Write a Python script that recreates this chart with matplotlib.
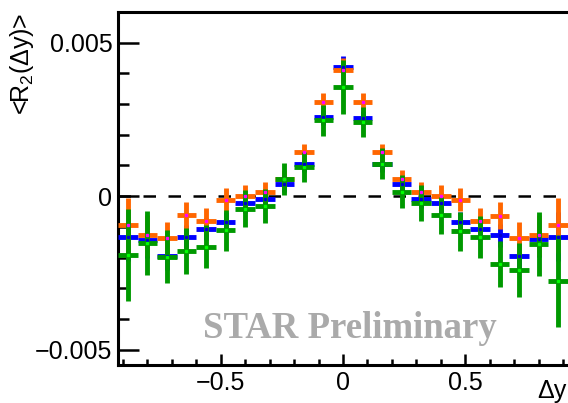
import numpy as np
import matplotlib
matplotlib.use('Agg')
import matplotlib.pyplot as plt
from matplotlib.ticker import MultipleLocator, FixedLocator

plt.rcParams['font.family'] = ['Liberation Sans', 'DejaVu Sans']
plt.rcParams['mathtext.fontset'] = 'custom'
plt.rcParams['mathtext.rm'] = 'Liberation Sans'
plt.rcParams['mathtext.it'] = 'Liberation Sans'

# bin centres in delta-y
dy = [-0.88, -0.80, -0.72, -0.64, -0.56, -0.48, -0.40, -0.32, -0.24, -0.16, -0.08, 0.0,
      0.08, 0.16, 0.24, 0.32, 0.40, 0.48, 0.56, 0.64, 0.72, 0.80, 0.88]
half_width = 0.04

# values in units of 1e-3
blue = [-1.314, -1.422, -1.944, -1.314, -1.072, -0.856, -0.222, -0.101, 0.392, 1.062, 2.565, 4.222,
        2.543, 1.062, 0.399, -0.092, -0.222, -0.856, -1.072, -1.281, -1.954, -1.399, -1.314]
blue_err = [0.80, 0.59, 0.46, 0.39, 0.37, 0.34, 0.32, 0.29, 0.26, 0.26, 0.24, 0.36,
            0.24, 0.26, 0.26, 0.29, 0.32, 0.34, 0.37, 0.39, 0.46, 0.59, 0.80]

orange = [-0.954, -1.281, -1.356, -0.627, -0.801, -0.114, 0.016, 0.137, 0.572, 1.431, 3.078, 4.111,
          3.078, 1.431, 0.562, 0.137, 0.016, -0.114, -0.801, -0.637, -1.366, -1.281, -0.954]
orange_err = [0.895, 0.654, 0.513, 0.438, 0.415, 0.382, 0.359, 0.327, 0.294, 0.284, 0.271, 0.405,
              0.271, 0.284, 0.294, 0.327, 0.359, 0.382, 0.415, 0.438, 0.513, 0.654, 0.895]

green = [-1.922, -1.520, -1.967, -1.781, -1.641, -1.118, -0.409, -0.333, 0.572, 0.964, 2.467, 3.569,
         2.412, 1.052, 0.147, -0.222, -0.627, -1.150, -1.333, -2.206, -2.402, -1.562, -2.752]
green_err = [1.503, 1.046, 0.859, 0.752, 0.686, 0.654, 0.598, 0.556, 0.523, 0.490, 0.507, 0.882,
             0.490, 0.507, 0.533, 0.572, 0.598, 0.644, 0.686, 0.752, 0.873, 1.046, 1.503]

fig = plt.figure(figsize=(5.68, 4.03), dpi=100)
ax = fig.add_axes([0.2077, 0.0943, 0.7923, 0.8759])

series = [
    (blue, blue_err, '#0000ff', '#0000cc'),
    (orange, orange_err, '#ff6600', '#ff00ff'),
    (green, green_err, '#009900', '#00ff00'),
]
for vals, errs, color, mcolor in series:
    ax.errorbar(dy, np.array(vals) * 1e-3, xerr=half_width, yerr=np.array(errs) * 1e-3,
                fmt='s', ms=2.0, mfc=mcolor, mec=mcolor, ecolor=color, elinewidth=3.5,
                capsize=0, zorder=3)

ax.axhline(0, color='black', lw=1.8, ls=(0, (5, 5)), zorder=2)

ax.set_xlim(-0.92, 0.92)
ax.set_ylim(-0.0055, 0.006)

ax.xaxis.set_major_locator(FixedLocator([-0.5, 0, 0.5]))
ax.xaxis.set_minor_locator(MultipleLocator(0.1))
ax.yaxis.set_major_locator(FixedLocator([-0.005, 0, 0.005]))
ax.yaxis.set_minor_locator(MultipleLocator(0.001))
ax.set_xticklabels(['\u22120.5', '0', '0.5'])
ax.set_yticklabels(['\u22120.005', '0', '0.005'])

ax.tick_params(axis='both', which='both', direction='in', labelsize=18, width=1.8)
ax.tick_params(axis='y', which='major', length=15, pad=4)
ax.tick_params(axis='y', which='minor', length=8)
ax.tick_params(axis='x', which='major', length=8, pad=4)
ax.tick_params(axis='x', which='minor', length=4)

ax.spines['right'].set_visible(False)
for s in ['left', 'top', 'bottom']:
    ax.spines[s].set_linewidth(2.2)

fig.text(0.998, 0.0, '\u0394y', fontsize=18, ha='right', va='bottom')
fig.text(0.038, 0.968, '<R$_2$(\u0394y)>', fontsize=18, rotation=90, ha='center', va='top')

ax.text(0.027, -0.0043, 'STAR Preliminary', fontsize=26.5, fontweight='bold',
        family='Liberation Serif', color='#aaaaaa', ha='center', va='center', zorder=1)

fig.savefig('out.png', dpi=100)
